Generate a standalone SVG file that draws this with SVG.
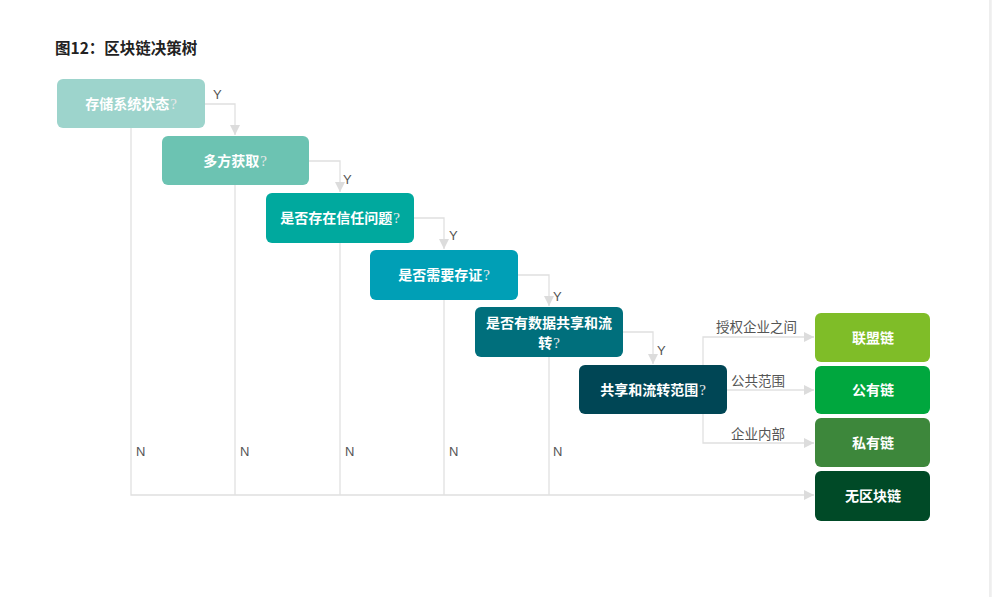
<svg xmlns="http://www.w3.org/2000/svg" width="992" height="597" viewBox="0 0 992 597">
<defs>
<marker id="ah" viewBox="0 0 10 10" refX="10" refY="5" markerWidth="10" markerHeight="10" markerUnits="userSpaceOnUse" orient="auto">
<path d="M0,0 L10,5 L0,10 z" fill="#dcdcdc"/>
</marker>
<style>
.t{font-family:"Noto Sans CJK SC","Noto Sans",sans-serif;font-size:14px;font-weight:bold;fill:#fff;text-anchor:middle}
.q{font-weight:normal;font-family:"Liberation Serif",serif;fill:#e8e8e8;font-size:15px}
.c{fill:none;stroke:#e0e0e0;stroke-width:1.3}
.l{font-family:"Noto Sans CJK SC","Noto Sans",sans-serif;font-size:13.5px;fill:#555}
.yn{font-family:"Liberation Sans",sans-serif;font-size:13px;fill:#555}
</style>
</defs>
<rect width="992" height="597" fill="#fff"/>
<line x1="990" y1="0" x2="990" y2="597" stroke="#dddddd" stroke-width="1"/>
<rect x="991" y="0" width="1" height="597" fill="#f2f2f2"/>
<text x="55" y="54" font-family="Noto Sans CJK SC,sans-serif" font-size="15.5" font-weight="bold" fill="#222">图12：区块链决策树</text>

<g id="connectors">
<path class="c" d="M205,104 H235 V135" marker-end="url(#ah)"/>
<path class="c" d="M309,161 H340 V192" marker-end="url(#ah)"/>
<path class="c" d="M414,218 H444 V249" marker-end="url(#ah)"/>
<path class="c" d="M518,275 H549 V306" marker-end="url(#ah)"/>
<path class="c" d="M623,332 H653 V364" marker-end="url(#ah)"/>
<path class="c" d="M703,390 V337 H814" marker-end="url(#ah)"/>
<path class="c" d="M727,390 H814" marker-end="url(#ah)"/>
<path class="c" d="M703,390 V443 H814" marker-end="url(#ah)"/>
<path class="c" d="M131,128 V495 H814" marker-end="url(#ah)"/>
<path class="c" d="M235,185 V495"/>
<path class="c" d="M340,243 V495"/>
<path class="c" d="M444,300 V495"/>
<path class="c" d="M549,357 V495"/>
<text class="yn" x="213" y="99">Y</text>
<text class="yn" x="343" y="184">Y</text>
<text class="yn" x="449" y="240">Y</text>
<text class="yn" x="553" y="301">Y</text>
<text class="yn" x="657" y="355">Y</text>
<text class="yn" x="136" y="456">N</text>
<text class="yn" x="240" y="456">N</text>
<text class="yn" x="345" y="456">N</text>
<text class="yn" x="449" y="456">N</text>
<text class="yn" x="553" y="456">N</text>
<text class="l" x="716" y="332">授权企业之间</text>
<text class="l" x="731" y="386">公共范围</text>
<text class="l" x="731" y="439">企业内部</text>
</g>

<g id="n1"><rect x="57" y="79" width="148" height="49" rx="6" fill="#9dd4cc"/><text class="t" x="131" y="109">存储系统状态<tspan class="q" dx="1">?</tspan></text></g>
<g id="n2"><rect x="162" y="136" width="147" height="49" rx="6" fill="#6cc3b2"/><text class="t" x="235" y="166">多方获取<tspan class="q" dx="1">?</tspan></text></g>
<g id="n3"><rect x="266" y="193" width="148" height="50" rx="6" fill="#00a99e"/><text class="t" x="340" y="223">是否存在信任问题<tspan class="q" dx="1">?</tspan></text></g>
<g id="n4"><rect x="370" y="250" width="148" height="50" rx="6" fill="#009fb6"/><text class="t" x="444" y="280">是否需要存证<tspan class="q" dx="1">?</tspan></text></g>
<g id="n5"><rect x="475" y="307" width="148" height="50" rx="6" fill="#006f7c"/><text class="t" x="549" y="328">是否有数据共享和流</text><text class="t" x="549" y="348">转<tspan class="q" dx="1">?</tspan></text></g>
<g id="n6"><rect x="579" y="365" width="148" height="49" rx="6" fill="#004655"/><text class="t" x="653" y="395">共享和流转范围<tspan class="q" dx="1">?</tspan></text></g>
<g id="r1"><rect x="815" y="313" width="115" height="49" rx="6" fill="#7fbd28"/><text class="t" x="873" y="343">联盟链</text></g>
<g id="r2"><rect x="815" y="366" width="115" height="48" rx="6" fill="#00a73e"/><text class="t" x="873" y="395">公有链</text></g>
<g id="r3"><rect x="815" y="418" width="115" height="49" rx="6" fill="#3d873b"/><text class="t" x="873" y="448">私有链</text></g>
<g id="r4"><rect x="815" y="471" width="115" height="50" rx="6" fill="#004a27"/><text class="t" x="873" y="501">无区块链</text></g>
</svg>
